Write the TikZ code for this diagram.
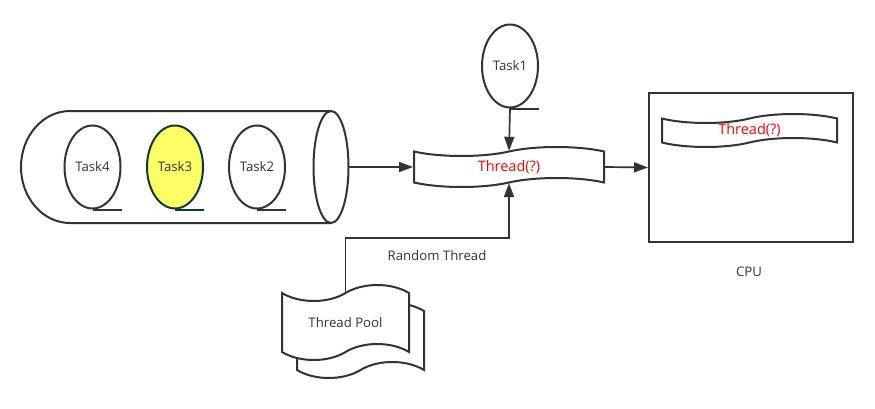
\documentclass[tikz,border=0pt]{standalone}
\usepackage{fontspec}
\setmainfont{Open Sans}
\usetikzlibrary{positioning,shapes.geometric,shapes.symbols,arrows.meta}
\definecolor{ink}{HTML}{333333}
\definecolor{hilite}{HTML}{FFFF66}
\definecolor{hiliteedge}{HTML}{0D3B3B}
\tikzset{
  outline/.style={draw=ink,line width=2pt},
  label/.style={text=ink,font=\fontsize{13.2}{15}\selectfont},
  task/.style={outline,ellipse,minimum width=56pt,minimum height=83pt,inner sep=0pt,label},
  thread/.style={outline,tape,fill=white,inner sep=0pt,tape bend height=9pt,text=red,font=\fontsize{14.5}{16}\selectfont},
  poolsheet/.style={thread,label,tape bend height=16pt,minimum width=127pt,minimum height=75pt},
  link/.style={draw=ink,line width=1.7pt,-{Triangle[length=14pt,width=10pt]}},
}
\begin{document}
\begin{tikzpicture}[x=1pt,y=1pt]
 \useasboundingbox (0,0) rectangle (875,408);
 \draw[outline] (331,297) -- (70,297) arc[start angle=90,end angle=270,x radius=49,y radius=56] -- (331,185);
 \draw[outline] (331,241) ellipse[x radius=17.5,y radius=56];
 \coordinate (queue) at (349,241);
 \node[task] (task4) at (92.5,241) {Task4};
 \node[task,fill=hilite,draw=hiliteedge] (task3) at (175,241) {Task3};
 \node[task] (task2) at (257,241) {Task2};
 \node[task] (task1) at (510,342) {Task1};
 \draw[outline] (task4.south) -- ++(29,0);
 \draw[outline,draw=hiliteedge] (task3.south) -- ++(29,0);
 \draw[outline] (task2.south) -- ++(29,0);
 \draw[outline] (task1.south) -- ++(29,0);
 \node[thread,minimum width=190pt,minimum height=40pt] (thread) at (509,241) {Thread(?)};
 \node[outline,minimum width=204pt,minimum height=149pt] (cpu) at (751,240.5) {};
 \node[thread,minimum width=175pt,minimum height=33pt] (running) at (749.5,277.5) {Thread(?)};
 \node[label] (cpulabel) at (749,136) {CPU};
 \node[poolsheet] (poolback) at (360.5,67.5) {};
 \node[poolsheet] (pool) at (345.5,85.5) {\raisebox{-3pt}{Thread Pool}};
 \node[label] (random) at (437,152) {Random Thread};
 \coordinate (elbow) at (pool.north |- 0,170);
 \draw[link] (queue) -- (thread.west);
 \draw[link] (task1.south) -- (thread.north);
 \draw[link] (thread.east) -- (cpu.west);
 \draw[link] (pool.north) -- (elbow) -| (thread.south);
\end{tikzpicture}
\end{document}
